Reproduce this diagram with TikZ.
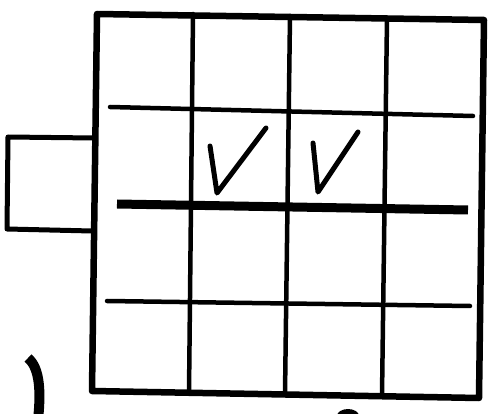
\documentclass[tikz,border=0pt]{standalone}
\begin{document}
\begin{tikzpicture}[x=1pt,y=-1pt, line cap=round, line join=round,
  frame/.style={line width=6.5pt},
  gridline/.style={line width=4.5pt},
  heavyrule/.style={line width=9pt, line cap=butt},
  tickmark/.style={line width=5pt}]
\useasboundingbox (0,0) rectangle (493,414);
% outer frame
\draw[frame] (97,14) -- (484,20) -- (479,398) -- (92,391) -- cycle;
% small side box
\draw[line width=5pt] (94,138) -- (8,137) -- (7,229) -- (92,231);
% vertical grid lines
\draw[gridline] (193,14) -- (189,393);
\draw[gridline] (290,16) -- (285,394);
\draw[gridline] (387,18) -- (382,396);
% horizontal grid lines
\draw[gridline] (110,107) -- (473,116);
\draw[heavyrule] (117,204) -- (468,210);
\draw[gridline] (107,301) -- (470,306);
% check marks
\draw[tickmark] (210,146) -- (217,193) -- (266,128);
\draw[tickmark] (313,143) -- (318,192) -- (358,132);
% fragments at bottom
\draw[line width=10pt, line cap=butt] (28,358) .. controls (40,368) and (41,392) .. (38,420);
\fill (348,416) ellipse (11 and 7);
\end{tikzpicture}
\end{document}
